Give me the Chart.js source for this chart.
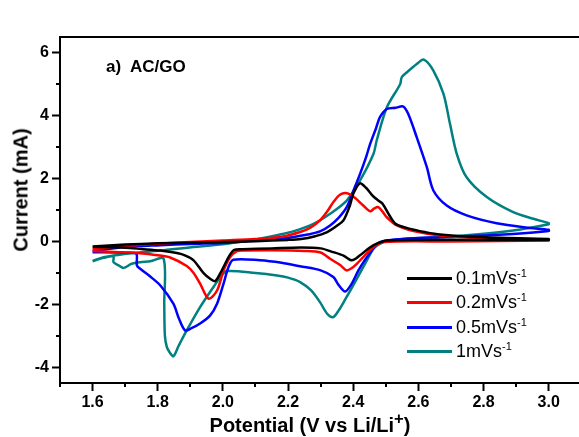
<!DOCTYPE html>
<html lang="en">

<head>
    <meta charset="UTF-8">
    <title>AC/GO cyclic voltammetry</title>
    <script src="https://cdn.jsdelivr.net/npm/chart.js"></script>
    <style>
        body {
            margin: 0;
            background: #fff;
            font-family: "Liberation Sans", Arial, sans-serif;
        }
        .wrap {
            position: relative;
            width: 579px;
            height: 437px;
            overflow: hidden;
        }
        .label {
            position: absolute;
            color: #000;
            white-space: nowrap;
        }
        #yTitle {
            left: 21px;
            top: 190px;
            font-weight: bold;
            font-size: 20px;
            transform: translate(-50%, -50%) rotate(-90deg);
        }
        #xTitle {
            left: 310px;
            top: 425px;
            font-weight: bold;
            font-size: 20px;
            transform: translate(-50%, -50%);
        }
        #xTitle sup, #legend sup {
            line-height: 0;
        }
        #tag {
            left: 106px;
            top: 57px;
            font-weight: bold;
            font-size: 17px;
        }
        #legend {
            position: absolute;
            left: 407px;
            top: 266px;
        }
        .row {
            display: flex;
            align-items: center;
            height: 24.5px;
            font-size: 18px;
        }
        .swatch {
            width: 45px;
            height: 3px;
            margin-right: 4px;
        }
    </style>
</head>

<body>
    <div class="wrap">
        <canvas id="cvChart" width="579" height="437"></canvas>
        <div class="label" id="yTitle">Current (mA)</div>
        <div class="label" id="xTitle">Potential (V vs Li/Li<sup>+</sup>)</div>
        <div class="label" id="tag">a)&nbsp; AC/GO</div>
        <div id="legend"></div>
    </div>
    <script>
        // scan rates
        const rateLabels = ['0.1', '0.2', '0.5', '1'];
        const rateColors = ['#000000', '#ff0000', '#0000ff', '#008080'];

        // axis ticks
        const xMajor = [1.6, 1.8, 2.0, 2.2, 2.4, 2.6, 2.8, 3.0];
        const xMinor = [1.5, 1.7, 1.9, 2.1, 2.3, 2.5, 2.7, 2.9];
        const yMajor = [-4, -2, 0, 2, 4, 6];
        const yMinor = [-3, -1, 1, 3, 5];

        // 0.1 mV/s loop (anodic sweep up to 3.0 V, then back down)
        const pot01 = [1.60, 1.70, 1.80, 1.90, 2.00, 2.10, 2.20, 2.24, 2.28, 2.32, 2.35, 2.37, 2.39, 2.40, 2.42, 2.44, 2.46, 2.477, 2.49, 2.51, 2.53, 2.575, 2.62, 2.667, 2.75, 2.85, 3.00,
            3.00, 2.80, 2.60, 2.503, 2.472, 2.45, 2.421, 2.396, 2.37, 2.339, 2.30, 2.24, 2.15, 2.06, 2.035, 2.02, 2.005, 1.99, 1.976, 1.96, 1.94, 1.91, 1.885, 1.859, 1.808, 1.75, 1.70, 1.60];
        const cur01 = [-0.16, -0.10, -0.06, -0.04, -0.02, 0.01, 0.05, 0.08, 0.16, 0.30, 0.50, 0.67, 1.15, 1.51, 1.85, 1.70, 1.45, 1.30, 1.20, 0.85, 0.56, 0.40, 0.30, 0.22, 0.16, 0.12, 0.08,
            0.05, 0.05, 0.05, 0.03, -0.07, -0.20, -0.44, -0.60, -0.45, -0.34, -0.22, -0.19, -0.22, -0.25, -0.27, -0.45, -0.75, -1.05, -1.26, -1.18, -1.00, -0.60, -0.45, -0.37, -0.29, -0.24, -0.20, -0.17];

        // 0.2 mV/s loop
        const pot02 = [1.60, 1.70, 1.80, 1.90, 2.00, 2.10, 2.18, 2.237, 2.27, 2.298, 2.32, 2.339, 2.355, 2.37, 2.385, 2.406, 2.43, 2.452, 2.465, 2.477, 2.49, 2.503, 2.534, 2.585, 2.667, 2.80, 3.00,
            3.00, 2.70, 2.493, 2.462, 2.435, 2.411, 2.395, 2.380, 2.36, 2.329, 2.30, 2.25, 2.15, 2.06, 2.043, 2.022, 2.002, 1.982, 1.956, 1.93, 1.91, 1.889, 1.838, 1.80, 1.736, 1.70, 1.60];
        const cur02 = [-0.25, -0.14, -0.07, -0.02, 0.03, 0.08, 0.15, 0.30, 0.45, 0.67, 0.95, 1.25, 1.45, 1.53, 1.52, 1.38, 1.15, 0.96, 1.05, 1.09, 0.95, 0.77, 0.51, 0.33, 0.19, 0.10, 0.05,
            0.03, 0.00, -0.02, -0.18, -0.45, -0.71, -0.85, -0.92, -0.75, -0.55, -0.35, -0.30, -0.28, -0.29, -0.31, -0.50, -0.92, -1.56, -1.82, -1.34, -1.00, -0.78, -0.51, -0.44, -0.37, -0.35, -0.30];

        // 0.5 mV/s loop
        const pot05 = [1.60, 1.70, 1.808, 1.90, 2.012, 2.10, 2.175, 2.216, 2.26, 2.298, 2.329, 2.355, 2.380, 2.40, 2.421, 2.44, 2.452, 2.47, 2.482, 2.503, 2.53, 2.554, 2.569, 2.595, 2.626, 2.646, 2.687, 2.748, 2.84, 2.943, 3.00,
            3.00, 2.89, 2.687, 2.55, 2.482, 2.457, 2.435, 2.416, 2.395, 2.375, 2.355, 2.339, 2.30, 2.237, 2.18, 2.114, 2.032, 2.017, 2.002, 1.982, 1.961, 1.930, 1.905, 1.884, 1.865, 1.848, 1.808, 1.775, 1.746, 1.736, 1.734, 1.70, 1.60];
        const cur05 = [-0.30, -0.18, -0.12, -0.08, -0.04, 0.03, 0.08, 0.14, 0.22, 0.32, 0.51, 0.75, 1.09, 1.60, 2.15, 2.70, 3.10, 3.60, 3.95, 4.21, 4.25, 4.29, 4.05, 3.31, 2.36, 1.62, 1.14, 0.83, 0.58, 0.43, 0.37,
            0.33, 0.24, 0.14, 0.08, -0.02, -0.29, -0.60, -0.92, -1.35, -1.59, -1.38, -1.13, -0.92, -0.79, -0.68, -0.60, -0.58, -0.82, -1.34, -1.98, -2.35, -2.61, -2.75, -2.83, -2.45, -1.98, -1.40, -1.10, -0.87, -0.76, -0.39, -0.36, -0.34];

        // 1 mV/s loop
        const pot1 = [1.60, 1.634, 1.664, 1.705, 1.75, 1.808, 1.86, 1.910, 2.012, 2.114, 2.175, 2.216, 2.278, 2.329, 2.380, 2.421, 2.462, 2.472, 2.503, 2.544, 2.549, 2.564, 2.595, 2.617, 2.646, 2.677, 2.697, 2.718, 2.748, 2.81, 2.891, 2.953, 3.00,
            3.00, 2.891, 2.738, 2.60, 2.523, 2.493, 2.465, 2.442, 2.411, 2.375, 2.355, 2.338, 2.32, 2.298, 2.27, 2.237, 2.20, 2.166, 2.10, 2.012, 1.995, 1.971, 1.930, 1.889, 1.865, 1.848, 1.835, 1.828, 1.822, 1.820, 1.818, 1.777, 1.746, 1.72, 1.695, 1.68, 1.664, 1.664, 1.634, 1.60];
        const cur1 = [-0.62, -0.50, -0.45, -0.39, -0.34, -0.29, -0.23, -0.18, -0.07, 0.09, 0.22, 0.32, 0.56, 0.88, 1.30, 1.94, 2.78, 3.21, 4.26, 5.00, 5.22, 5.37, 5.64, 5.78, 5.43, 4.69, 3.74, 2.78, 2.04, 1.41, 0.93, 0.72, 0.58,
            0.55, 0.35, 0.19, 0.10, 0.05, -0.02, -0.20, -0.60, -1.19, -1.85, -2.20, -2.41, -2.30, -1.93, -1.55, -1.29, -1.15, -1.08, -1.00, -0.94, -1.10, -1.45, -2.09, -2.83, -3.30, -3.65, -3.50, -3.36, -3.00, -2.00, -0.55, -0.63, -0.66, -0.71, -0.84, -0.76, -0.66, -0.48, -0.52, -0.63];

        const potentials = [pot01, pot02, pot05, pot1];
        const currents = [cur01, cur02, cur05, cur1];

        const fontFamily = '"Liberation Sans", Arial, sans-serif';

        // minor ticks are shorter than the major ones
        const minorTicks = {
            id: 'minorTicks',
            afterDraw(chart) {
                const ctx = chart.ctx;
                const area = chart.chartArea;
                const x = chart.scales.x;
                const y = chart.scales.y;
                ctx.save();
                ctx.strokeStyle = '#000';
                ctx.lineWidth = 2;
                ctx.beginPath();
                xMinor.forEach(v => {
                    const px = Math.round(x.getPixelForValue(v));
                    ctx.moveTo(px, area.bottom);
                    ctx.lineTo(px, area.bottom + 4);
                });
                yMinor.forEach(v => {
                    const py = Math.round(y.getPixelForValue(v));
                    ctx.moveTo(area.left - 4, py);
                    ctx.lineTo(area.left, py);
                });
                ctx.stroke();
                ctx.restore();
            }
        };

        const ctx = document.getElementById('cvChart').getContext('2d');
        const chart = new Chart(ctx, {
            type: 'scatter',
            data: {
                datasets: rateLabels.map((r, i) => ({
                    label: r + 'mVs-1',
                    data: potentials[i].map((p, j) => ({ x: p, y: currents[i][j] })),
                    showLine: true,
                    borderColor: rateColors[i],
                    backgroundColor: rateColors[i],
                    borderWidth: 2.5,
                    pointRadius: 0,
                    tension: 0.3,
                    fill: false
                }))
            },
            options: {
                responsive: false,
                animation: false,
                layout: {
                    padding: 0
                },
                plugins: {
                    legend: { display: false },
                    tooltip: { enabled: false }
                },
                scales: {
                    x: {
                        type: 'linear',
                        position: 'bottom',
                        min: 1.5,
                        max: 3.093,
                        afterBuildTicks: (scale) => {
                            scale.ticks = xMajor.map(v => ({ value: v }));
                        },
                        afterFit: (scale) => {
                            scale.height = 54;
                        },
                        ticks: {
                            color: '#000',
                            font: { family: fontFamily, size: 16, weight: 'bold' },
                            maxRotation: 0,
                            autoSkip: false,
                            padding: 2,
                            callback: (v) => Number(v).toFixed(1)
                        },
                        grid: {
                            drawOnChartArea: false,
                            tickLength: 8,
                            tickWidth: 2,
                            tickColor: '#000'
                        },
                        border: { display: true, color: '#000', width: 2 }
                    },
                    xTop: {
                        type: 'linear',
                        position: 'top',
                        min: 1.5,
                        max: 3.093,
                        afterFit: (scale) => {
                            scale.height = 37;
                        },
                        ticks: { display: false },
                        grid: { drawOnChartArea: false, drawTicks: false },
                        border: { display: true, color: '#000', width: 2 }
                    },
                    y: {
                        type: 'linear',
                        position: 'left',
                        min: -4.5,
                        max: 6.5,
                        afterBuildTicks: (scale) => {
                            scale.ticks = yMajor.map(v => ({ value: v }));
                        },
                        afterFit: (scale) => {
                            scale.width = 60;
                        },
                        ticks: {
                            color: '#000',
                            font: { family: fontFamily, size: 16, weight: 'bold' },
                            padding: 3
                        },
                        grid: {
                            drawOnChartArea: false,
                            tickLength: 8,
                            tickWidth: 2,
                            tickColor: '#000'
                        },
                        border: { display: true, color: '#000', width: 2 }
                    }
                }
            },
            plugins: [minorTicks]
        });

        // legend drawn as html, same colours and labels as the datasets
        const legend = document.getElementById('legend');
        rateLabels.forEach((r, i) => {
            const row = document.createElement('div');
            row.className = 'row';
            row.innerHTML = '<span class="swatch" style="background:' + rateColors[i] + '"></span>' +
                '<span>' + r + 'mVs<sup style="font-size:11px">-1</sup></span>';
            legend.appendChild(row);
        });
    </script>
</body>

</html>
